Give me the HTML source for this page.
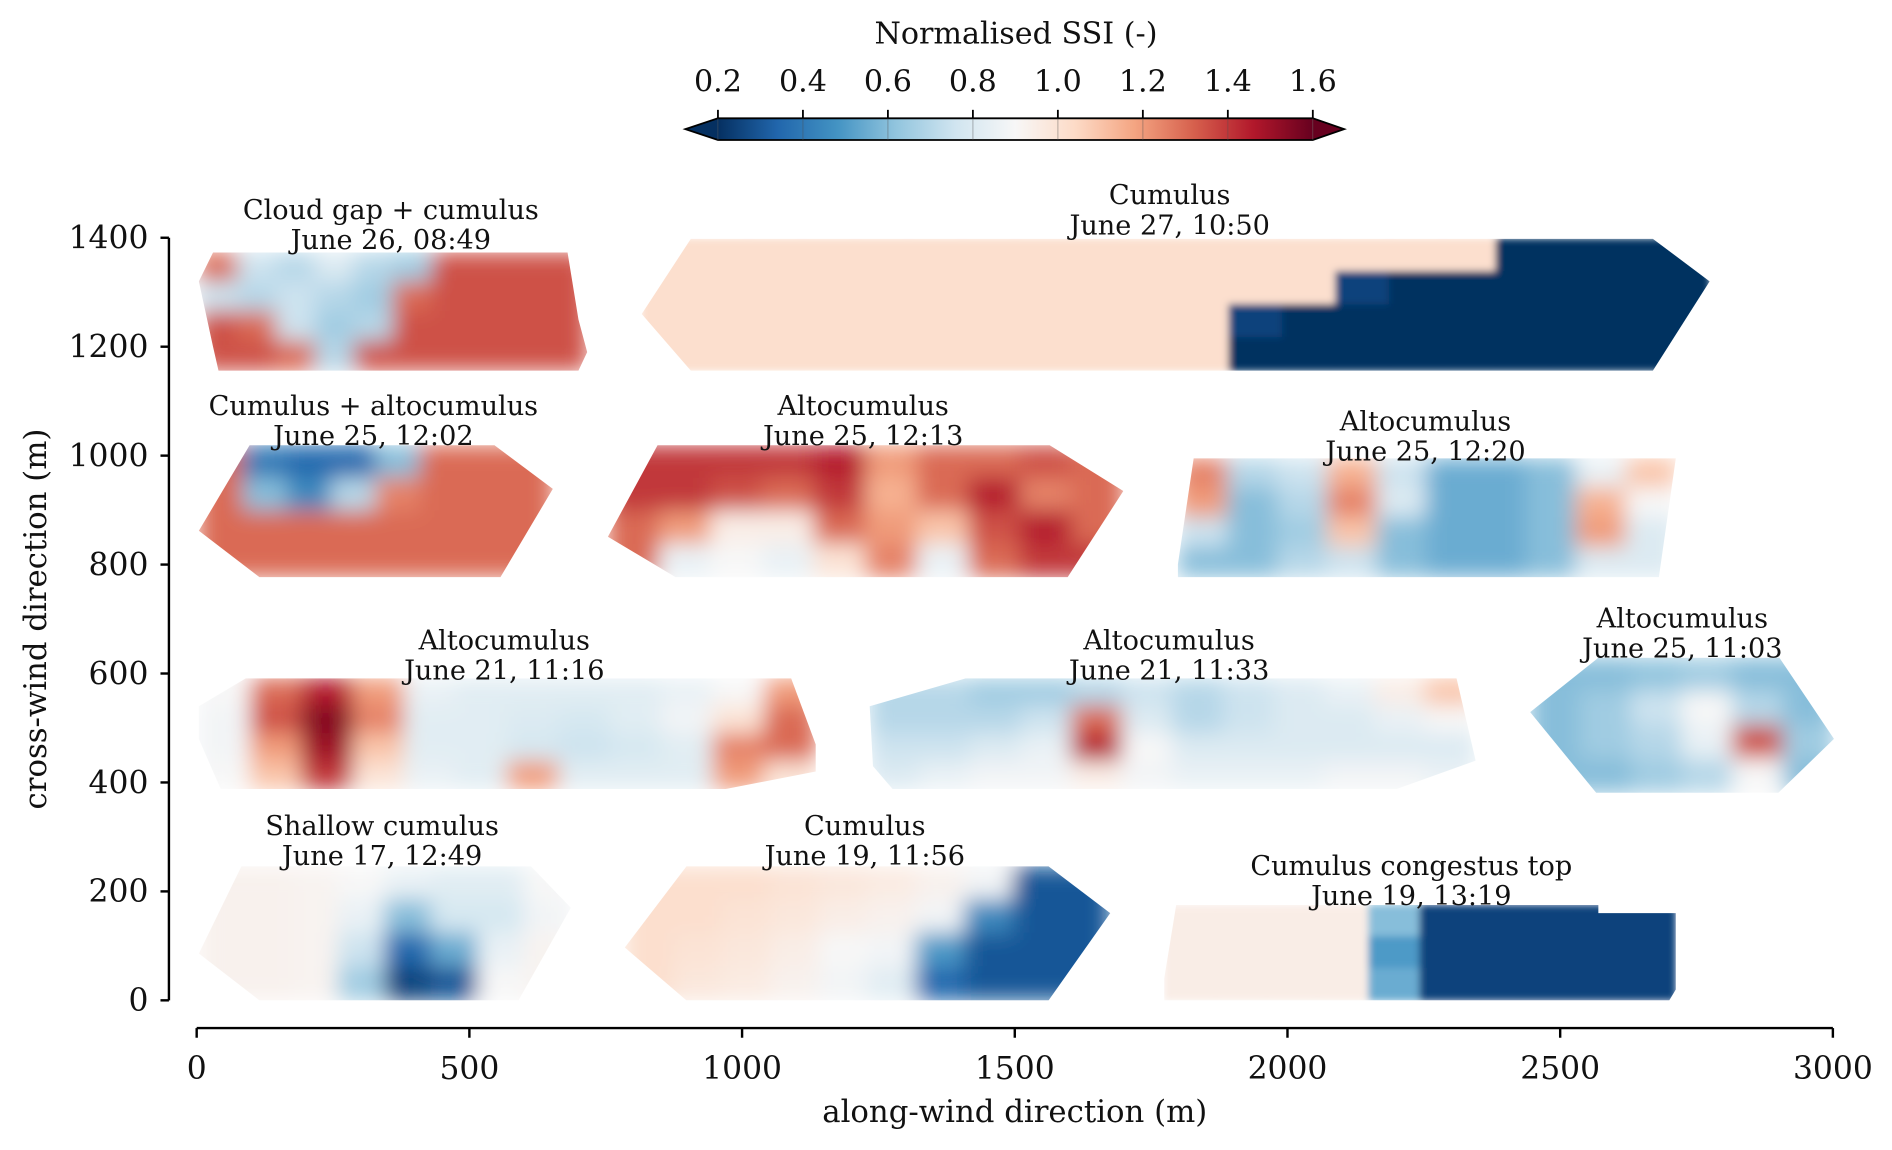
<!DOCTYPE html>
<html><head><meta charset="utf-8"><style>
html,body{margin:0;padding:0;background:#fff;}
svg{display:block;font-family:"DejaVu Serif","Liberation Serif",serif;}
</style></head><body>
<svg id="chart" width="1892" height="1150" viewBox="0 0 1568 953" xmlns="http://www.w3.org/2000/svg">
<defs>
<filter id="blur" x="-5%" y="-5%" width="110%" height="110%"><feGaussianBlur stdDeviation="9" edgeMode="duplicate"/></filter>
<filter id="blur2" x="-5%" y="-5%" width="110%" height="110%"><feGaussianBlur stdDeviation="3" edgeMode="duplicate"/></filter>
<linearGradient id="cbgrad" x1="0" x2="1" y1="0" y2="0"></linearGradient>
</defs>
<g id="panels"></g>
<g id="axes"></g>
<g id="cbar"></g>
</svg>
<script>
// ---- data ----
const xTicks = [0, 500, 1000, 1500, 2000, 2500, 3000];
const yTicks = [0, 200, 400, 600, 800, 1000, 1200, 1400];
const cbTicks = [0.2, 0.4, 0.6, 0.8, 1.0, 1.2, 1.4, 1.6];
const cbTickLabels = ["0.2","0.4","0.6","0.8","1.0","1.2","1.4","1.6"];
const panelTitles = ["Cloud gap + cumulus","Cumulus","Cumulus + altocumulus","Altocumulus","Altocumulus","Altocumulus","Altocumulus","Altocumulus","Shallow cumulus","Cumulus","Cumulus congestus top"];
const panelDates = ["June 26, 08:49","June 27, 10:50","June 25, 12:02","June 25, 12:13","June 25, 12:20","June 21, 11:16","June 21, 11:33","June 25, 11:03","June 17, 12:49","June 19, 11:56","June 19, 13:19"];
const panelExtents = [[4,716,1156,1373],[816,2774,1156,1398],[4,653,777,1019],[754,1699,777,1019],[1799,2712,777,995],[4,1135,388,591],[1234,2345,388,591],[2445,3002,381,629],[4,686,0,246],[785,1675,0,246],[1774,2712,0,175]];
const panelOutlines = [
 [[4,1320],[30,1373],[680,1373],[700,1250],[716,1190],[700,1156],[40,1156],[30,1200]],
 [[816,1260],[906,1398],[2670,1398],[2774,1320],[2670,1156],[906,1156]],
 [[97,1019],[546,1019],[653,939],[557,777],[115,777],[4,862]],
 [[845,1019],[1564,1019],[1699,935],[1597,777],[878,777],[754,851]],
 [[1828,995],[2712,995],[2681,777],[1799,777],[1799,800]],
 [[4,540],[90,591],[1090,591],[1135,470],[1135,420],[970,388],[44,388],[4,480]],
 [[1234,540],[1410,591],[2310,591],[2345,440],[2200,388],[1276,388],[1240,430]],
 [[2570,629],[2902,629],[3002,480],[2900,381],[2566,381],[2445,529]],
 [[82,246],[613,246],[686,170],[590,0],[115,0],[4,86]],
 [[898,246],[1562,246],[1675,160],[1562,0],[898,0],[785,97]],
 [[1796,175],[2570,175],[2570,160],[2712,160],[2712,20],[2700,0],[1774,0],[1774,40]]
];
const grid0 = [[1.3,0.75,0.7,0.8,0.7,0.65,1.35,1.35,1.35,1.35],[0.75,0.7,0.75,0.7,0.65,1.3,1.35,1.35,1.35,1.35],[1.35,1.3,0.75,0.65,0.7,1.35,1.35,1.35,1.35,1.35],[1.35,1.35,1.3,0.7,1.35,1.35,1.35,1.35,1.35,1.35]];
const grid1 = [[1.02,1.02,1.02,1.02,1.02,1.02,1.02,1.02,1.02,1.02,1.02,1.02,1.02,1.02,1.02,1.02,0.2,0.2,0.2,0.2],[1.02,1.02,1.02,1.02,1.02,1.02,1.02,1.02,1.02,1.02,1.02,1.02,1.02,0.25,0.2,0.2,0.2,0.2,0.2,0.2],[1.02,1.02,1.02,1.02,1.02,1.02,1.02,1.02,1.02,1.02,1.02,0.25,0.2,0.2,0.2,0.2,0.2,0.2,0.2,0.2],[1.02,1.02,1.02,1.02,1.02,1.02,1.02,1.02,1.02,1.02,1.02,0.2,0.2,0.2,0.2,0.2,0.2,0.2,0.2,0.2]];
const grid2 = [[1.3,0.4,0.35,0.35,0.6,1.3,1.3,1.3],[1.3,0.6,0.45,0.7,1.25,1.3,1.3,1.3],[1.3,1.3,1.3,1.3,1.3,1.3,1.3,1.3],[1.3,1.3,1.3,1.3,1.3,1.3,1.3,1.3]];
const grid3 = [[1.4,1.4,1.4,1.4,1.45,1.2,1.3,1.3,1.35,1.3],[1.4,1.4,1.35,1.3,1.4,1.15,1.3,1.45,1.25,1.3],[1.3,1.2,0.95,0.95,1.3,1.2,1.1,1.35,1.45,1.3],[1.3,0.85,0.9,0.85,1.0,1.25,0.85,1.3,1.4,1.4]];
const grid4 = [[1.25,0.7,0.75,1.15,0.75,0.55,0.55,0.6,0.85,1.1],[1.2,0.6,0.7,1.25,0.8,0.55,0.55,0.6,1.15,0.9],[0.75,0.6,0.65,1.1,0.6,0.55,0.55,0.6,1.2,0.8],[0.6,0.6,0.7,0.75,0.6,0.55,0.55,0.6,0.8,0.8]];
const grid5 = [[0.9,1.3,1.45,1.2,0.85,0.82,0.82,0.82,0.82,0.85,0.9,1.2],[0.88,1.35,1.55,1.25,0.82,0.82,0.8,0.78,0.82,0.88,1.0,1.3],[0.88,1.2,1.5,1.1,0.82,0.82,0.78,0.75,0.78,0.82,1.25,1.3],[0.9,1.1,1.4,1.0,0.85,0.82,1.2,0.82,0.82,0.82,1.2,1.0]];
const grid6 = [[0.7,0.7,0.65,0.65,0.7,0.75,0.7,0.75,0.8,0.85,0.95,1.1],[0.7,0.7,0.7,0.75,1.3,0.8,0.7,0.75,0.8,0.8,0.85,0.9],[0.75,0.75,0.8,0.85,1.45,0.9,0.8,0.8,0.8,0.8,0.8,0.8],[0.8,0.85,0.88,0.88,0.95,0.88,0.85,0.85,0.85,0.88,0.88,0.85]];
const grid7 = [[0.6,0.6,0.62,0.65,0.6,0.6],[0.6,0.65,0.75,0.9,0.7,0.6],[0.6,0.65,0.7,0.85,1.35,0.65],[0.6,0.6,0.65,0.7,0.9,0.6]];
const grid8 = [[0.93,0.93,0.92,0.9,0.85,0.82,0.82,0.9],[0.93,0.93,0.92,0.85,0.6,0.78,0.78,0.88],[0.93,0.93,0.92,0.75,0.35,0.55,0.85,0.92],[0.93,0.93,0.92,0.65,0.25,0.3,0.9,0.92]];
const grid9 = [[1.02,1.02,1.02,1.0,0.98,0.96,0.93,0.88,0.3,0.3],[1.02,1.02,1.0,0.98,0.95,0.93,0.88,0.45,0.3,0.3],[1.02,1.0,0.98,0.95,0.9,0.88,0.5,0.3,0.3,0.3],[1.02,0.98,0.96,0.93,0.88,0.82,0.35,0.3,0.3,0.3]];
const grid10 = [[0.95,0.95,0.95,0.95,0.6,0.25,0.25,0.25,0.25,0.25],[0.95,0.95,0.95,0.95,0.5,0.25,0.25,0.25,0.25,0.25],[0.95,0.95,0.95,0.95,0.55,0.25,0.25,0.25,0.25,0.25]];
const panelGrids = [grid0,grid1,grid2,grid3,grid4,grid5,grid6,grid7,grid8,grid9,grid10];
const labelX = [356,1784,324,1222,2253,564,1783,2724,340,1225,2227];
const labelY = [1450,1477,1090,1090,1062,660,660,700,319,319,246];

// ---- scales ----
const NS = "http://www.w3.org/2000/svg";
const X0=163, X1=1519, Y0=829, Y1=197;
const sx = v => X0 + v*(X1-X0)/3000;
const sy = v => Y0 - v*(Y0-Y1)/1400;
const CB0=595, CB1=1088;
const scb = v => CB0 + (v-0.2)*(CB1-CB0)/1.4;
const rdbu = ["#053061","#2166ac","#4393c3","#92c5de","#d1e5f0","#f7f7f7","#fddbc7","#f4a582","#d6604d","#b2182b","#67001f"];
function hex(c){return [parseInt(c.slice(1,3),16),parseInt(c.slice(3,5),16),parseInt(c.slice(5,7),16)];}
function cmap(v){
  let t=(v-0.2)/1.4; t=Math.max(0,Math.min(1,t))*10;
  const i=Math.min(9,Math.floor(t)), f=t-i;
  const a=hex(rdbu[i]), b=hex(rdbu[i+1]);
  return "rgb("+a.map((x,k)=>Math.round(x+(b[k]-x)*f)).join(",")+")";
}
function mk(tag, attrs, parent){const e=document.createElementNS(NS,tag);for(const k in attrs)e.setAttribute(k,attrs[k]);parent.appendChild(e);return e;}
const sharp = [1,10];

// ---- panels ----
const pg=document.getElementById("panels");
const defs=document.querySelector("defs");
panelGrids.forEach((g,p)=>{
  const ext=panelExtents[p];
  const cp=mk("clipPath",{id:"clip"+p},defs);
  mk("polygon",{points:panelOutlines[p].map(q=>sx(q[0])+","+sy(q[1])).join(" ")},cp);
  const outer=mk("g",{"clip-path":"url(#clip"+p+")"},pg);
  
  
  const inner=mk("g",{filter:sharp.includes(p)?"url(#blur2)":"url(#blur)"},outer);
  const rows=g.length, cols=g[0].length;
  const cw=(ext[1]-ext[0])/cols, ch=(ext[3]-ext[2])/rows;
  g.forEach((row,r)=>row.forEach((v,c)=>{
    const x0=sx(ext[0]+c*cw), x1=sx(ext[0]+(c+1)*cw);
    const y0=sy(ext[3]-r*ch), y1=sy(ext[3]-(r+1)*ch);
    const rc=mk("rect",{x:x0-0.5,y:y0-0.5,width:x1-x0+1,height:y1-y0+1,fill:cmap(v)},inner);
    
    
  }));
  const cx=sx(labelX[p]), ty=sy(labelY[p]);
  const t1=mk("text",{x:cx,y:ty+7,"text-anchor":"middle","font-size":"22.5",fill:"#111"},pg);
  t1.textContent=panelTitles[p];
  
  
  const t2=mk("text",{x:cx,y:ty+32,"text-anchor":"middle","font-size":"22.5",fill:"#111"},pg);
  t2.textContent=panelDates[p];
  
  
});

// ---- axes ----
const ax=document.getElementById("axes");
const yl=mk("line",{x1:140,x2:140,y1:sy(1400),y2:sy(0),stroke:"#000","stroke-width":2},ax);


yTicks.forEach(v=>{
  const y=sy(v);
  mk("line",{x1:133,x2:140,y1:y,y2:y,stroke:"#000","stroke-width":2},ax);
  const t=mk("text",{x:123,y:y+9,"text-anchor":"end","font-size":"26",fill:"#111"},ax);
  t.textContent=String(v);
  
  
});
const xl=mk("line",{x1:sx(0),x2:sx(3000),y1:852,y2:852,stroke:"#000","stroke-width":2},ax);


xTicks.forEach(v=>{
  const x=sx(v);
  mk("line",{x1:x,x2:x,y1:852,y2:860,stroke:"#000","stroke-width":2},ax);
  const t=mk("text",{x:x,y:894,"text-anchor":"middle","font-size":"26",fill:"#111"},ax);
  t.textContent=String(v);
  
  
});
const xt=mk("text",{x:841,y:930,"text-anchor":"middle","font-size":"25.5",fill:"#111"},ax);
xt.textContent="along-wind direction (m)";


const yt=mk("text",{x:0,y:0,"text-anchor":"middle","font-size":"25.5",fill:"#111",transform:"translate(38,513) rotate(-90)"},ax);
yt.textContent="cross-wind direction (m)";



// ---- colorbar ----
const grad=document.getElementById("cbgrad");
rdbu.forEach((c,i)=>mk("stop",{offset:(i/10*100)+"%","stop-color":c},grad));
const cb=document.getElementById("cbar");
mk("polygon",{points:"568,107 "+CB0+",98 "+CB0+",116",fill:rdbu[0]},cb);
mk("polygon",{points:"1114,107 "+CB1+",98 "+CB1+",116",fill:rdbu[10]},cb);
mk("rect",{x:CB0,y:98,width:CB1-CB0,height:18,fill:"url(#cbgrad)"},cb);
mk("polygon",{points:"568,107 "+CB0+",98 "+CB1+",98 1114,107 "+CB1+",116 "+CB0+",116",fill:"none",stroke:"#000","stroke-width":1.5},cb);
cbTicks.forEach((v,i)=>{
  const x=scb(v);
  mk("line",{x1:x,x2:x,y1:98,y2:116,stroke:"rgba(80,80,80,0.35)","stroke-width":1},cb);
  mk("line",{x1:x,x2:x,y1:91,y2:98,stroke:"#000","stroke-width":1.5},cb);
  const t=mk("text",{x:x,y:76,"text-anchor":"middle","font-size":"25",fill:"#111"},cb);
  t.textContent=cbTickLabels[i];
  
  
});
const ct=mk("text",{x:842,y:36,"text-anchor":"middle","font-size":"25",fill:"#111"},cb);
ct.textContent="Normalised SSI (-)";


</script>
</body></html>
